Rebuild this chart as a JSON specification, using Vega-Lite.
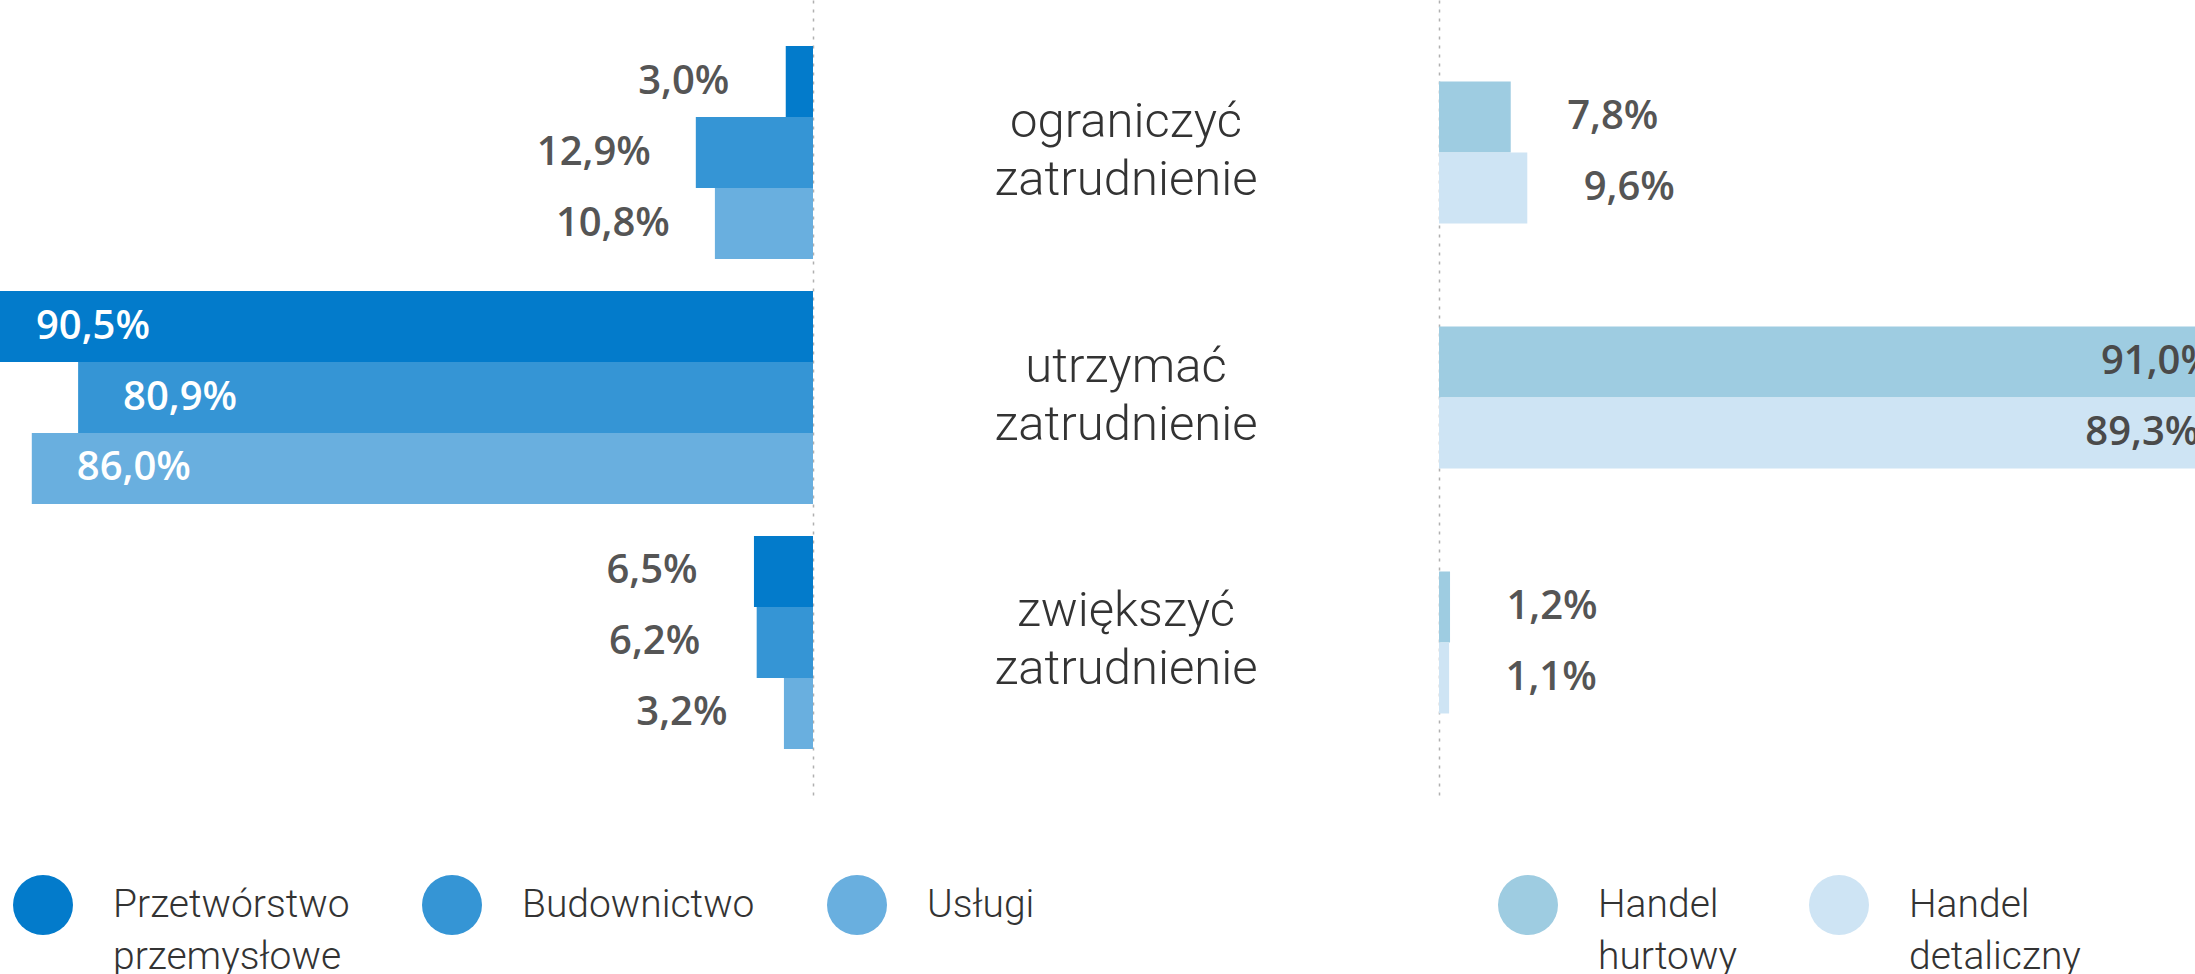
{
  "$schema": "https://vega.github.io/schema/vega-lite/v6.json",
  "padding": 0,
  "spacing": 0,
  "bounds": "flush",
  "background": "white",
  "config": {"view": {"stroke": null}, "style": {"guide-label": {"lineHeight": 52}}},
  "datasets": {
    "left": [
      {"cat": "ograniczyć zatrudnienie", "series": "Przetwórstwo przemysłowe", "value": 3.0},
      {"cat": "ograniczyć zatrudnienie", "series": "Budownictwo", "value": 12.9},
      {"cat": "ograniczyć zatrudnienie", "series": "Usługi", "value": 10.8},
      {"cat": "utrzymać zatrudnienie", "series": "Przetwórstwo przemysłowe", "value": 90.5},
      {"cat": "utrzymać zatrudnienie", "series": "Budownictwo", "value": 80.9},
      {"cat": "utrzymać zatrudnienie", "series": "Usługi", "value": 86.0},
      {"cat": "zwiększyć zatrudnienie", "series": "Przetwórstwo przemysłowe", "value": 6.5},
      {"cat": "zwiększyć zatrudnienie", "series": "Budownictwo", "value": 6.2},
      {"cat": "zwiększyć zatrudnienie", "series": "Usługi", "value": 3.2}
    ],
    "right": [
      {"cat": "ograniczyć zatrudnienie", "series": "Handel hurtowy", "value": 7.8},
      {"cat": "ograniczyć zatrudnienie", "series": "Handel detaliczny", "value": 9.6},
      {"cat": "utrzymać zatrudnienie", "series": "Handel hurtowy", "value": 91.0},
      {"cat": "utrzymać zatrudnienie", "series": "Handel detaliczny", "value": 89.3},
      {"cat": "zwiększyć zatrudnienie", "series": "Handel hurtowy", "value": 1.2},
      {"cat": "zwiększyć zatrudnienie", "series": "Handel detaliczny", "value": 1.1}
    ],
    "cats": [
      {"cat": "ograniczyć zatrudnienie"},
      {"cat": "utrzymać zatrudnienie"},
      {"cat": "zwiększyć zatrudnienie"}
    ]
  },
  "resolve": {
    "scale": {"x": "independent", "y": "independent", "yOffset": "independent", "color": "independent"},
    "legend": {"color": "independent"}
  },
  "hconcat": [
    {
      "width": 813,
      "height": 795,
      "data": {"name": "left"},
      "transform": [{"calculate": "replace(format(datum.value, '.1f'), '.', ',') + '%'", "as": "label"}],
      "encoding": {
        "y": {
          "field": "cat", "type": "nominal",
          "sort": ["ograniczyć zatrudnienie", "utrzymać zatrudnienie", "zwiększyć zatrudnienie"],
          "scale": {"type": "band", "paddingInner": 0.1306, "paddingOuter": 0.1878},
          "axis": {"orient": "right", "domain": true, "domainDash": [3, 6], "domainColor": "#b0b0b0", "domainWidth": 1.5, "labels": false, "ticks": false, "title": null, "grid": false}
        },
        "yOffset": {
          "field": "series", "type": "nominal",
          "sort": ["Przetwórstwo przemysłowe", "Budownictwo", "Usługi"],
          "scale": {"type": "band", "paddingInner": 0, "paddingOuter": 0}
        },
        "x": {
          "field": "value", "type": "quantitative",
          "scale": {"domain": [0, 89.5], "reverse": true, "nice": false},
          "axis": null
        }
      },
      "layer": [
        {
          "mark": {"type": "bar", "clip": true},
          "encoding": {
            "color": {
              "field": "series", "type": "nominal",
              "scale": {"domain": ["Przetwórstwo przemysłowe", "Budownictwo", "Usługi"], "range": ["#037BCB", "#3595D5", "#69AFDF"]},
              "legend": {
                "orient": "none", "legendX": 13, "legendY": 875, "direction": "horizontal", "title": null,
                "symbolType": "circle", "symbolSize": 3600, "symbolStrokeWidth": 0, "symbolOpacity": 1,
                "labelFont": "Roboto", "labelFontWeight": 300, "labelFontSize": 39, "labelColor": "#333333",
                "labelOffset": 40, "labelLimit": 0, "labelBaseline": "middle",
                "labelExpr": "indexof(datum.label, ' ') > 0 ? split(datum.label, ' ') : [datum.label, ' ']",
                "columnPadding": 72, "padding": 0
              }
            }
          }
        },
        {
          "transform": [{"filter": "datum.value < 50"}],
          "mark": {"type": "text", "dx": -102, "align": "center", "baseline": "middle", "font": "Open Sans", "fontWeight": 600, "fontSize": 40, "color": "#555555"},
          "encoding": {"text": {"field": "label"}}
        },
        {
          "transform": [{"filter": "datum.value >= 50"}],
          "mark": {"type": "text", "dx": 102, "align": "center", "baseline": "middle", "font": "Open Sans", "fontWeight": 600, "fontSize": 40, "color": "#ffffff"},
          "encoding": {"text": {"field": "label"}}
        }
      ]
    },
    {
      "width": 626,
      "height": 795,
      "data": {"name": "cats"},
      "mark": {"type": "text", "lineBreak": " ", "font": "Roboto", "fontWeight": 300, "fontSize": 49, "color": "#333333", "lineHeight": 58, "baseline": "middle", "align": "center", "dy": -31},
      "encoding": {
        "y": {
          "field": "cat", "type": "nominal",
          "sort": ["ograniczyć zatrudnienie", "utrzymać zatrudnienie", "zwiększyć zatrudnienie"],
          "scale": {"type": "band", "paddingInner": 0.1306, "paddingOuter": 0.1878},
          "axis": null
        },
        "text": {"field": "cat"}
      }
    },
    {
      "width": 756,
      "height": 795,
      "data": {"name": "right"},
      "transform": [{"calculate": "replace(format(datum.value, '.1f'), '.', ',') + '%'", "as": "label"}],
      "encoding": {
        "y": {
          "field": "cat", "type": "nominal",
          "sort": ["ograniczyć zatrudnienie", "utrzymać zatrudnienie", "zwiększyć zatrudnienie"],
          "scale": {"type": "band", "paddingInner": 0.1306, "paddingOuter": 0.1878},
          "axis": {"orient": "left", "domain": true, "domainDash": [3, 6], "domainColor": "#b0b0b0", "domainWidth": 1.5, "labels": false, "ticks": false, "title": null, "grid": false}
        },
        "yOffset": {
          "field": "series", "type": "nominal",
          "sort": ["Handel hurtowy", "Handel detaliczny"],
          "scale": {"type": "band", "paddingInner": 0, "paddingOuter": 0.5}
        },
        "x": {
          "field": "value", "type": "quantitative",
          "scale": {"domain": [0, 82.2], "nice": false},
          "axis": null
        }
      },
      "layer": [
        {
          "mark": {"type": "bar", "clip": true},
          "encoding": {
            "color": {
              "field": "series", "type": "nominal",
              "scale": {"domain": ["Handel hurtowy", "Handel detaliczny"], "range": ["#9ECCE1", "#CEE4F4"]},
              "legend": {
                "orient": "none", "legendX": 59, "legendY": 875, "direction": "horizontal", "title": null,
                "symbolType": "circle", "symbolSize": 3600, "symbolStrokeWidth": 0, "symbolOpacity": 1,
                "labelFont": "Roboto", "labelFontWeight": 300, "labelFontSize": 39, "labelColor": "#333333",
                "labelOffset": 40, "labelLimit": 0, "labelBaseline": "middle",
                "labelExpr": "split(datum.label, ' ')", "columnPadding": 72, "padding": 0
              }
            }
          }
        },
        {
          "transform": [{"filter": "datum.value < 50"}],
          "mark": {"type": "text", "dx": 102, "align": "center", "baseline": "middle", "font": "Open Sans", "fontWeight": 600, "fontSize": 40, "color": "#555555"},
          "encoding": {"text": {"field": "label"}}
        },
        {
          "transform": [{"filter": "datum.value >= 50"}],
          "mark": {"type": "text", "dx": -118, "align": "center", "baseline": "middle", "font": "Open Sans", "fontWeight": 600, "fontSize": 40, "color": "#4a4a4a", "clip": true},
          "encoding": {"text": {"field": "label"}}
        }
      ]
    }
  ]
}
